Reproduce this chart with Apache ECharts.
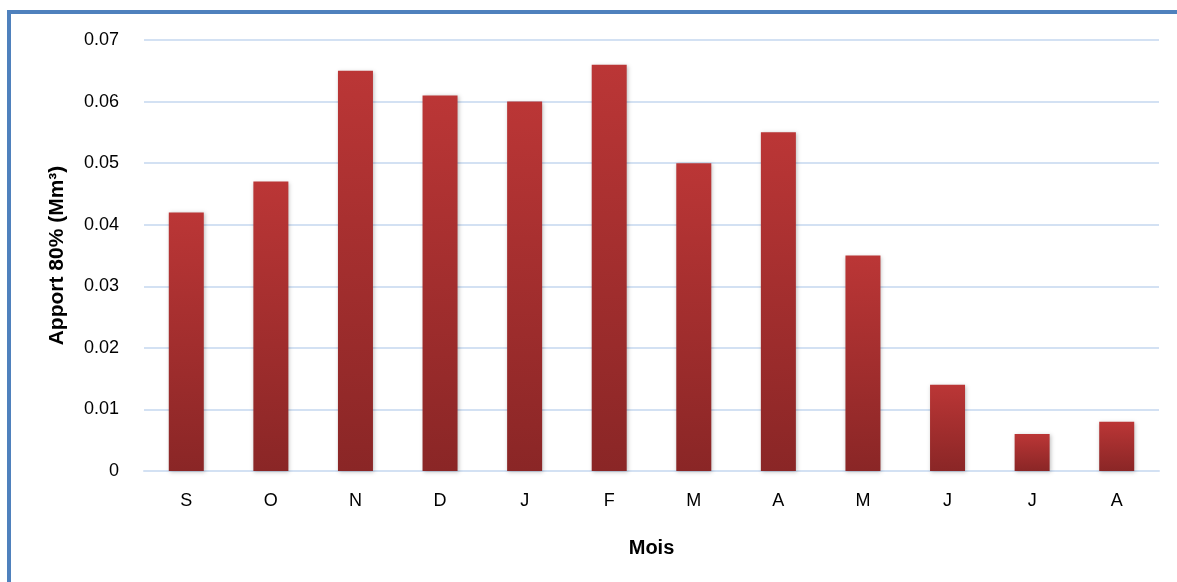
<!DOCTYPE html>
<html>
<head>
<meta charset="utf-8">
<script src="https://cdn.jsdelivr.net/npm/echarts@6/dist/echarts.min.js"></script>
<style>
html,body{margin:0;padding:0;background:#fff;}
.frame{
  position:absolute;left:7px;top:10px;width:1200px;height:600px;
  border-left:4px solid #4f81bd;border-top:4px solid #4f81bd;
}
#chart{position:absolute;left:0;top:0;width:1177px;height:582px;}
</style>
</head>
<body>
<div class="frame"></div>
<div id="chart"></div>
<script>
// mois (septembre -> août)
const months = ['S', 'O', 'N', 'D', 'J', 'F', 'M', 'A', 'M', 'J', 'J', 'A'];
// apport 80% en Mm³
const apport = [0.042, 0.047, 0.065, 0.061, 0.060, 0.066, 0.050, 0.055, 0.035, 0.014, 0.006, 0.008];

const font = 'Liberation Sans';

const option = {
  animation: false,
  grid: {
    left: 144,
    right: 18,
    top: 40,
    bottom: 111
  },
  xAxis: {
    type: 'category',
    data: months,
    name: 'Mois',
    nameLocation: 'middle',
    nameGap: 67,
    nameTextStyle: {fontFamily: font, fontSize: 20, fontWeight: 'bold', color: '#000'},
    axisLine: {lineStyle: {color: '#d3e1f3', width: 2}},
    axisTick: {show: false},
    axisLabel: {fontFamily: font, fontSize: 18, color: '#000', margin: 21}
  },
  yAxis: {
    type: 'value',
    min: 0,
    max: 0.07,
    interval: 0.01,
    name: 'Apport 80% (Mm³)',
    nameLocation: 'middle',
    nameGap: 76,
    nameTextStyle: {fontFamily: font, fontSize: 21, fontWeight: 'bold', color: '#000'},
    axisLine: {show: false},
    axisTick: {show: false},
    axisLabel: {
      fontFamily: font, fontSize: 18, color: '#000', margin: 25,
      formatter: v => v === 0 ? '0' : v.toFixed(2)
    },
    splitLine: {lineStyle: {color: '#d3e1f3', width: 2}}
  },
  series: [{
    type: 'bar',
    data: apport,
    barWidth: 35,
    itemStyle: {
      color: new echarts.graphic.LinearGradient(0, 0, 0, 1, [
        {offset: 0, color: '#bb3636'},
        {offset: 1, color: '#8a2626'}
      ]),
      shadowBlur: 4,
      shadowColor: 'rgba(0,0,0,0.25)',
      shadowOffsetX: 1,
      shadowOffsetY: 1
    }
  }]
};

echarts.init(document.getElementById('chart')).setOption(option);
</script>
</body>
</html>
